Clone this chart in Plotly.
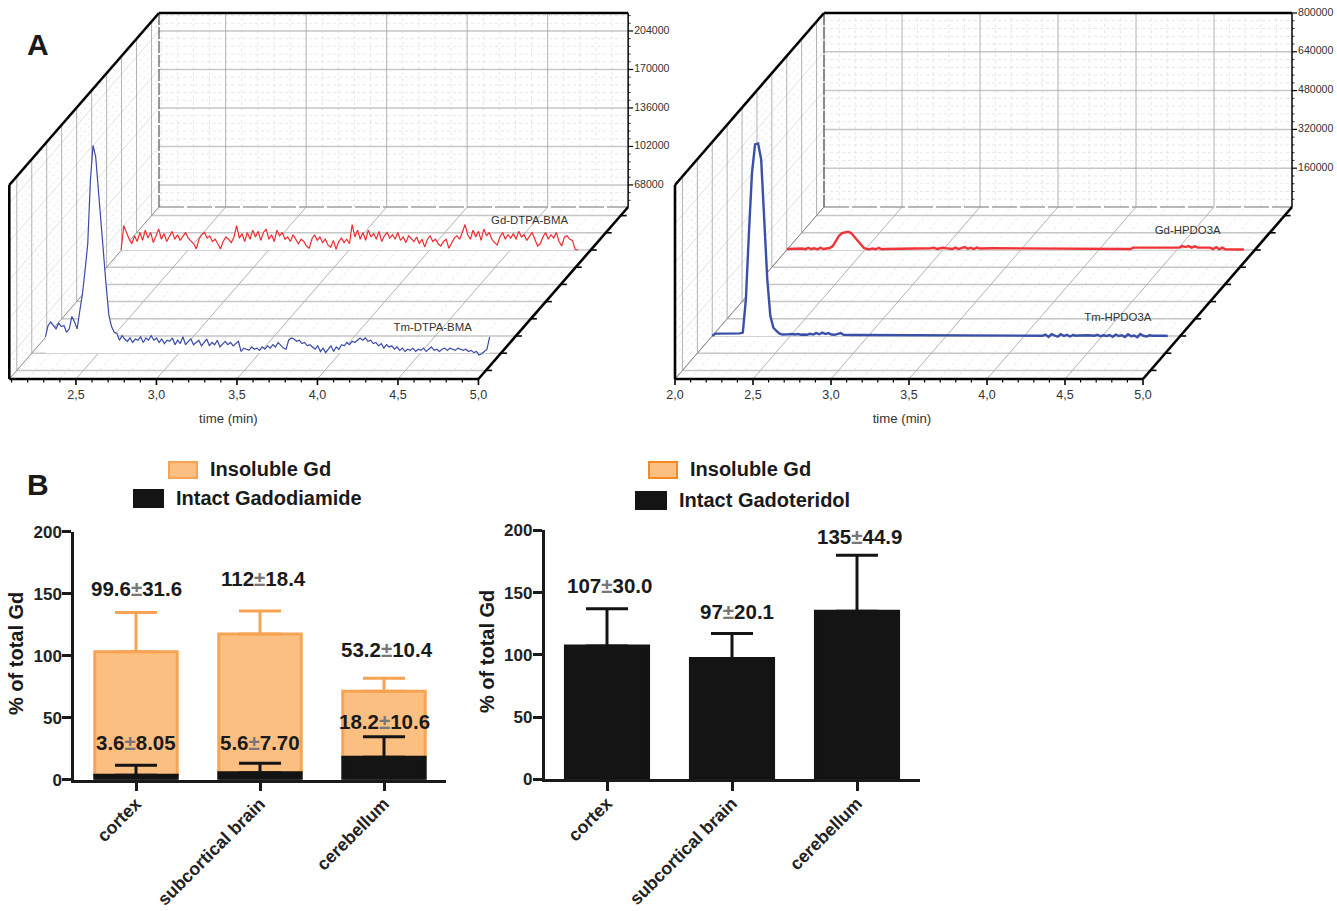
import numpy as np
import plotly.graph_objects as go

W, H = 1337, 911
FONT = "Liberation Sans"

# ---------- Panel A data (intensity in thousands of counts) ----------
TM_DTPA_K = [
 63,73,76,73,70,75,72,73,67,70,
 81,76,70,86,101,122,145,201,232,222,
 193,160,134,107,82,72,67,66,60,64,
 61,59,62,58,61,60,63,58,62,60,
 64,60,62,58,61,57,60,59,62,56,
 60,57,63,56,59,61,56,58,60,55,
 58,61,55,58,56,60,54,57,59,56,
 58,55,57,59,50,53,52,51,54,52,
 53,51,54,52,55,53,56,54,58,55,
 53,52,60,62,61,59,60,57,58,55,
 56,54,52,55,50,53,49,52,55,50,
 54,52,56,55,58,56,59,58,60,62,
 60,62,59,60,57,58,55,57,53,56,
 54,55,52,54,51,53,50,52,51,53,
 50,52,51,53,50,52,54,51,52,50,
 52,53,51,53,52,51,53,52,51,52,
 50,51,49,50,47,48,50,52,63]
GD_DTPA_K = [
 48.5,70,64,58,54,61,56,64,57,66,
 59,64,55,62,67,58,63,56,61,65,
 58,62,57,60,64,59,56,54,49.5,58,
 62,64,59,61,56,58,54,49.5,56,60,
 58,55,60,70,59,63,56,64,58,66,
 60,65,57,64,67,58,62,56,66,61,
 64,58,60,56,62,58,54,58,56,52,
 50,58,62,57,60,55,58,53,51,57,
 49,56,59,55,58,54,71,60,66,58,
 64,57,66,60,63,58,65,56,61,64,
 59,62,58,64,57,60,55,61,58,56,
 60,54,58,51,58,61,56,58,54,52,
 56,58,50,55,59,61,58,64,71,62,
 58,66,60,65,57,67,61,64,58,55,
 53,60,64,58,62,59,63,58,65,60,
 62,57,60,64,58,52,54,60,64,58,
 62,59,64,56,52,60,61,58,57,49,48.5]
TM_HPDO3A_K = [
 0,10,10,10,10,10,10,10,10,11,
 14,151,426,673,790,794,728,495,234,82,
 34,21,10,6,5,7,8,6,8,5,
 6,5,9,6,12,7,14,8,12,6,
 5,8,12,5,4,4,4,4,4,4,
 4,4,4,4,3,4,4,4,4,4,
 4,4,3,4,4,4,4,4,4,4,
 4,4,4,4,3,4,4,4,4,4,
 4,3,4,4,4,4,4,3,4,4,
 3,3,3,4,3,3,3,3,3,3,
 3,3,3,3,3,3,3,3,1,6,
 -4,8,2,-3,7,0,5,-2,4,1,
 2,3,2,3,2,1,5,-1,3,0,
 4,-3,6,0,3,-4,7,-1,2,-5,
 8,1,-2,3,1,2,0,1,1,0]
GD_HPDO3A_K = [
 4,5,4,5,5,6,3,9,4,7,
 3,9,4,5,8,16,35,58,70,74,
 75,70,55,40,24,10,4,3,6,3,
 9,3,4,4,7,7,7,7,7,7,
 7,7,7,7,7,7,7,7,9,4,
 7,9,7,6,4,10,4,8,12,5,
 9,4,10,6,7,7,7,7,7,7,
 7,7,6,7,7,7,6,7,7,7,
 6,7,7,7,6,7,7,6,7,7,
 7,6,7,7,7,7,6,7,7,7,
 6,7,7,7,6,7,7,7,7,6,
 7,7,4,10,10,9,10,10,9,10,
 10,10,11,9,10,10,10,12,10,16,
 12,16,10,15,10,10,9,10,10,4,
 12,3,10,3,2,2,2,2,2,2]

DEPTH_TICKS = [0.05,0.15,0.25,0.35,0.45,0.55,0.65,0.75,0.85,0.95]
LEFT_TIME_TICKS = [2.5,3.0,3.5,4.0,4.5,5.0]
LEFT_TIME_MINOR = [2.1,2.2,2.3,2.4,2.6,2.7,2.8,2.9,3.1,3.2,3.3,3.4,3.6,3.7,3.8,3.9,4.1,4.2,4.3,4.4,4.6,4.7,4.8,4.9]
RIGHT_TIME_TICKS = [2.0,2.5,3.0,3.5,4.0,4.5,5.0]
RIGHT_TIME_MINOR = LEFT_TIME_MINOR
LEFT_Z_TICKS = [68,102,136,170,204]
LEFT_Z_MINOR = [54.4,61.2,74.8,81.6,88.4,95.2,108.8,115.6,122.4,129.2,142.8,149.6,156.4,163.2,176.8,183.6,190.4,197.2,210.8,217.6]
RIGHT_Z_TICKS = [160,320,480,640,800]
RIGHT_Z_MINOR = [32,64,96,128,192,224,256,288,352,384,416,448,512,544,576,608,672,704,736,768]

# ---------- Panel B data ----------
REGIONS = ["cortex", "subcortical brain", "cerebellum"]
INSOLUBLE_GD = [99.6, 112, 53.2]
INSOLUBLE_ERR = [31.6, 18.4, 10.4]
INTACT_GADODIAMIDE = [3.6, 5.6, 18.2]
INTACT_GADODIAMIDE_ERR = [8.05, 7.70, 16.5]
INTACT_GADOTERIDOL = [107, 97, 135]
INTACT_GADOTERIDOL_ERR = [30.0, 20.1, 44.9]
LABEL_INSOLUBLE = ["99.6±31.6", "112±18.4", "53.2±10.4"]
LABEL_GADODIAMIDE = ["3.6±8.05", "5.6±7.70", "18.2±10.6"]
LABEL_GADOTERIDOL = ["107±30.0", "97±20.1", "135±44.9"]

fig = go.Figure()


def oblique_panel(ax, pane, tmin, tmax, zmin, zmax, ppm, ppk, depth_x, t_major, t_minor, z_major, z_minor,
                  series, lw, time_title_t):
    """Draw an oblique waterfall panel. ax: axis suffix; pane: pixel x-range of the hidden axes."""
    depth_y = 172.0
    dx, dy = depth_x / ppm, depth_y / ppk
    xa, ya = "x" + ax, "y" + ax

    def P(t, d, z):
        return t + d * dx, z + d * dy

    def add_lines(segs, color, width, dash="solid"):
        xs, ys = [], []
        for (a, b) in segs:
            xa_, ya_ = P(*a)
            xb_, yb_ = P(*b)
            xs += [xa_, xb_, None]
            ys += [ya_, yb_, None]
        fig.add_trace(go.Scatter(x=xs, y=ys, xaxis=xa, yaxis=ya, mode="lines", hoverinfo="skip", showlegend=False,
                                 line=dict(color=color, width=width, dash=dash)))

    def add_text(ts, ds, zs, texts, size, pos="middle center", color="#333333"):
        pts = [P(t, d, z) for t, d, z in zip(ts, ds, zs)]
        fig.add_trace(go.Scatter(x=[p[0] for p in pts], y=[p[1] for p in pts], xaxis=xa, yaxis=ya, mode="text",
                                 text=texts, textposition=pos, hoverinfo="skip", showlegend=False, cliponaxis=False,
                                 textfont=dict(family=FONT, size=size, color=color)))

    # minor dotted grids
    dotted = []
    for t in t_minor:
        dotted.append(((t, 1, zmin), (t, 1, zmax)))
        dotted.append(((t, 0, zmin), (t, 1, zmin)))
    for z in z_minor:
        dotted.append(((tmin, 1, z), (tmax, 1, z)))
        dotted.append(((tmin, 0, z), (tmin, 1, z)))
    add_lines(dotted, "#dcdcdc", 0.7, "dot")
    # major grids
    add_lines([((tmin, 0, z), (tmin, 1, z)) for z in z_major], "#dddddd", 0.9)
    add_lines([((tmin, 1, z), (tmax, 1, z)) for z in z_major] +
              [((tmin, d, zmin), (tmax, d, zmin)) for d in DEPTH_TICKS], "#c6c6c6", 1.5)
    add_lines([((t, 1, zmin), (t, 1, zmax)) for t in t_major] +
              [((t, 0, zmin), (t, 1, zmin)) for t in t_major] +
              [((tmin, d, zmin), (tmin, d, zmax)) for d in DEPTH_TICKS], "#a9a9a9", 0.9)
    # inner edges
    add_lines([((tmin, 0, zmin), (tmin, 1, zmin))], "#8a8a8a", 1)
    add_lines([((tmin, 1, zmin), (tmax, 1, zmin))], "#a0a0a0", 1.5, "25px,3px")
    add_lines([((tmin, 1, zmin), (tmin, 1, zmax))], "#555555", 1.2, "12px,2px")

    # traces with a white mask down to their floor line
    for vals, t0, t1, d, color, name, lab_t, lab_z in series:
        ts = np.linspace(t0, t1, len(vals))
        vals = np.array(vals, float)
        x, y = P(ts, d, vals)
        fx, fy = P(ts, d, np.full(len(ts), zmin))
        fig.add_trace(go.Scatter(x=np.r_[x, fx[::-1]], y=np.r_[y, fy[::-1]], xaxis=xa, yaxis=ya, mode="lines",
                                 fill="toself", fillcolor="white", line=dict(width=0), hoverinfo="skip",
                                 showlegend=False))
        fig.add_trace(go.Scatter(x=x, y=y, xaxis=xa, yaxis=ya, mode="lines", name=name, showlegend=False,
                                 line=dict(color=color, width=lw)))
        add_text([lab_t], [d], [lab_z], [name], 11.4)

    # frame
    add_lines([((tmin, 0, zmin), (tmax, 0, zmin)), ((tmin, 0, zmin), (tmin, 0, zmax)),
               ((tmin, 0, zmax), (tmin, 1, zmax)), ((tmin, 1, zmax), (tmax, 1, zmax)),
               ((tmax, 0, zmin), (tmax, 1, zmin))], "#000000", 2.6)
    add_lines([((tmax, 1, zmin), (tmax, 1, zmax))], "#000000", 1.4)
    # ticks
    add_lines([((t, 0, zmin), (t, 0, zmin - 6 / ppk)) for t in t_major], "#000000", 1.6)
    add_lines([((t, 0, zmin), (t, 0, zmin - 3.5 / ppk)) for t in t_minor], "#000000", 1.2)
    add_lines([((tmax, d, zmin), (tmax + 6 / ppm, d, zmin)) for d in DEPTH_TICKS], "#000000", 1.6)
    add_lines([((tmax, 1, z), (tmax + 5 / ppm, 1, z)) for z in z_major], "#000000", 1.2)
    add_lines([((tmax, 1, z), (tmax + 2.5 / ppm, 1, z)) for z in z_minor], "#000000", 0.8)
    # tick labels
    add_text(t_major, [0] * len(t_major), [zmin - 17 / ppk] * len(t_major),
             [f"{t:.1f}".replace(".", ",") for t in t_major], 12.5)
    add_text([time_title_t], [0], [zmin - 41 / ppk], ["time (min)"], 13.2)
    add_text([tmax + 6 / ppm] * len(z_major), [1] * len(z_major), z_major,
             [str(int(z * 1000)) for z in z_major], 10.6, "middle right")

    px0, px1 = pane
    return dict(x0=px0, x1=px1, tmin=tmin, ppm=ppm, zmin=zmin, ppk=ppk)


def hidden_axes(ax, info, x_origin):
    xr = [info["tmin"] + (info["x0"] - x_origin) / info["ppm"], info["tmin"] + (info["x1"] - x_origin) / info["ppm"]]
    yr = [info["zmin"] - (440 - 379) / info["ppk"], info["zmin"] + 379 / info["ppk"]]
    fig.update_layout({
        "xaxis" + ax: dict(domain=[info["x0"] / W, info["x1"] / W], range=xr, visible=False, anchor="y" + ax,
                           automargin=False),
        "yaxis" + ax: dict(domain=[1 - 440 / H, 1], range=yr, visible=False, anchor="x" + ax, automargin=False),
    })


BLUE, RED = "#3B4AA6", "#EE2B30"
info = oblique_panel("", (0, 668), 2.086, 5.0, 48.5, 219.9, 161.0, 1.132, 149.7,
                     LEFT_TIME_TICKS, LEFT_TIME_MINOR, LEFT_Z_TICKS, LEFT_Z_MINOR,
                     [(GD_DTPA_K, 2.083, 4.92, 0.75, RED, "Gd-DTPA-BMA", 4.62, 74.4),
                      (TM_DTPA_K, 2.171, 4.93, 0.15, BLUE, "Tm-DTPA-BMA", 4.576, 70.8)], 1.2, 3.447)
hidden_axes("", info, 9.3)
info = oblique_panel("2", (668, 1337), 2.0, 5.0, 0, 800, 156.0, 0.2425, 149.0,
                     RIGHT_TIME_TICKS, RIGHT_TIME_MINOR, RIGHT_Z_TICKS, RIGHT_Z_MINOR,
                     [(GD_HPDO3A_K, 2.0, 4.93, 0.75, "#F03338", "Gd-HPDO3A", 4.57, 79.6),
                      (TM_HPDO3A_K, 2.0, 4.92, 0.25, "#3A50A8", "Tm-HPDO3A", 4.60, 74)], 2.4, 3.455)
hidden_axes("2", info, 675)

# ---------- Panel B ----------
ORANGE_FILL, ORANGE_LINE, BLACK = "#FBBF82", "#F6A453", "#141414"


def bar(ax, y, err, fill, line, base=None):
    fig.add_trace(go.Bar(x=REGIONS, y=y, base=base, xaxis="x" + ax, yaxis="y" + ax, width=0.665, showlegend=False,
                         marker=dict(color=fill, line=dict(color=line, width=3)),
                         error_y=dict(type="data", array=err, arrayminus=[0, 0, 0], color=line, thickness=3,
                                      width=21)))


bar("3", INSOLUBLE_GD, INSOLUBLE_ERR, ORANGE_FILL, ORANGE_LINE, base=INTACT_GADODIAMIDE)
bar("3", INTACT_GADODIAMIDE, INTACT_GADODIAMIDE_ERR, BLACK, BLACK)
bar("4", INTACT_GADOTERIDOL, INTACT_GADOTERIDOL_ERR, BLACK, BLACK)

for ax, dom_x, dom_y in (("3", (74, 446), (531.7, 779.7)), ("4", (544.5, 919.5), (530.3, 779.3))):
    fig.update_layout({
        "xaxis" + ax: dict(domain=[dom_x[0] / W, dom_x[1] / W], anchor="y" + ax, type="category", automargin=False,
                           categoryorder="array", categoryarray=REGIONS, range=[-0.5, 2.5], showline=True,
                           linecolor="#1a1a1a", linewidth=2.5, ticks="outside", ticklen=9, tickwidth=2.5,
                           tickcolor="#1a1a1a", tickangle=-45, showgrid=False, zeroline=False, ticklabelstandoff=-5,
                           tickfont=dict(family=FONT, size=17.8, color="#222222", weight="bold")),
        "yaxis" + ax: dict(domain=[1 - dom_y[1] / H, 1 - dom_y[0] / H], anchor="x" + ax, range=[0, 200],
                           automargin=False, tickvals=[0, 50, 100, 150, 200], showline=True, linecolor="#1a1a1a",
                           linewidth=2.5, ticks="outside", ticklen=9, tickwidth=2.5, tickcolor="#1a1a1a",
                           showgrid=False, zeroline=False, ticklabelstandoff=-3,
                           tickfont=dict(family=FONT, size=17, color="#222222", weight="bold")),
    })


def pm(s):
    return "<b>" + s.replace("±", '<span style="color:#777777">±</span>') + "</b>"


annotations = []
for ax, labels, ys, shifts in (
    ("3", LABEL_INSOLUBLE, [154.6, 161.9, 105.4], [0, 3, 3]),
    ("3", LABEL_GADODIAMIDE, [29.8, 29.8, 46.8], [0, 0, 0]),
    ("4", LABEL_GADOTERIDOL, [155.3, 135, 194.8], [2, 5, 2]),
):
    for r, lab, yy, sh in zip(REGIONS, labels, ys, shifts):
        annotations.append(dict(x=r, y=yy, xref="x" + ax, yref="y" + ax, text=pm(lab), showarrow=False, xshift=sh,
                                font=dict(family=FONT, size=20.5, color="#1a1a1a")))


def paper_text(px, py, text, size, anchor="left", angle=0):
    annotations.append(dict(x=px / W, y=1 - py / H, xref="paper", yref="paper", text=text, showarrow=False,
                            xanchor=anchor, yanchor="middle", textangle=angle,
                            font=dict(family=FONT, size=size, color="#1a1a1a")))


paper_text(25, 45, "<b>A</b>", 30)
paper_text(25, 485, "<b>B</b>", 30)
paper_text(208, 469, "<b>Insoluble Gd</b>", 20)
paper_text(174, 498, "<b>Intact Gadodiamide</b>", 20)
paper_text(688, 469, "<b>Insoluble Gd</b>", 20)
paper_text(677, 500, "<b>Intact Gadoteridol</b>", 20)
paper_text(16, 654, "<b>% of total Gd</b>", 20, "center", -90)
paper_text(487, 652, "<b>% of total Gd</b>", 20, "center", -90)

shapes = []
for x0, x1, y0, y1, fill, line in (
    (169, 197, 462, 478, ORANGE_FILL, ORANGE_LINE),
    (134, 163, 490, 507, BLACK, BLACK),
    (649, 677, 462, 478, ORANGE_FILL, "#F58A25"),
    (636, 666, 492, 509, BLACK, BLACK),
):
    shapes.append(dict(type="rect", xref="paper", yref="paper", x0=x0 / W, x1=x1 / W, y0=1 - y1 / H, y1=1 - y0 / H,
                       fillcolor=fill, line=dict(color=line, width=2)))

fig.update_layout(width=W, height=H, autosize=False, margin=dict(l=0, r=0, t=0, b=0), paper_bgcolor="white",
                  plot_bgcolor="rgba(0,0,0,0)", barmode="overlay", showlegend=False, annotations=annotations,
                  shapes=shapes, font=dict(family=FONT), template="none")
fig.write_html("out.html", config=dict(displayModeBar=False), post_script="document.body.style.margin='0';")
